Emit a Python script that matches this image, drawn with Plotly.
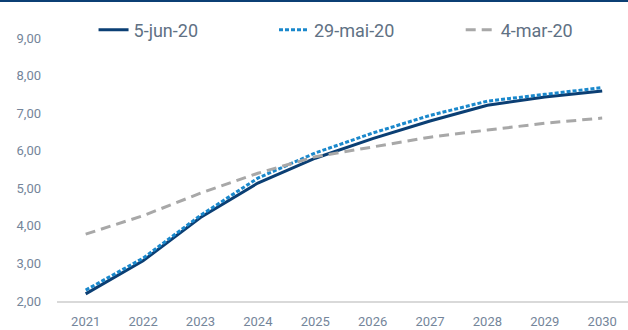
import plotly.graph_objects as go

years = ["2021", "2022", "2023", "2024", "2025", "2026", "2027", "2028", "2029", "2030"]
jun5 = [2.19, 3.07, 4.22, 5.14, 5.80, 6.32, 6.79, 7.21, 7.43, 7.59]
mai29 = [2.29, 3.14, 4.28, 5.27, 5.94, 6.47, 6.94, 7.32, 7.50, 7.68]
mar4 = [3.78, 4.27, 4.87, 5.40, 5.84, 6.09, 6.36, 6.55, 6.73, 6.87]
names = ["5-jun-20", "29-mai-20", "4-mar-20"]

font_fam = "Liberation Sans Narrow, Roboto, sans-serif"
leg_font = dict(family=font_fam, size=18, color="#5F7184")

fig = go.Figure()
fig.add_trace(go.Scatter(x=years, y=jun5, name=names[0], mode="lines", legend="legend",
                         line=dict(color="#0B3F74", width=3)))
fig.add_trace(go.Scatter(x=years, y=mai29, name=names[1], mode="lines", legend="legend2",
                         line=dict(color="#1A88CC", width=3, dash="4px,2px")))
fig.add_trace(go.Scatter(x=years, y=mar4, name=names[2], mode="lines", legend="legend3",
                         line=dict(color="#A8A8A8", width=3, dash="10px,6px")))

def leg(xpos):
    return dict(orientation="h", x=xpos, y=1.03, xanchor="left", yanchor="middle",
                font=leg_font, bgcolor="rgba(0,0,0,0)")

fig.update_layout(
    width=628, height=330,
    margin=dict(l=57, r=0, t=38, b=29, autoexpand=False),
    plot_bgcolor="white", paper_bgcolor="white",
    separators=",.",
    showlegend=True,
    legend=leg(0.064), legend2=leg(0.380), legend3=leg(0.707),
    font=dict(family=font_fam, color="#74859A"),
    shapes=[dict(type="rect", xref="paper", yref="paper", x0=-0.2, x1=1.2,
                 y0=1.0 + 36/263, y1=1.2, fillcolor="#0B3F74", line=dict(width=0))],
)
fig.update_xaxes(type="category", range=[-0.5, 9.45], showgrid=False,
                 showline=True, linecolor="#D9D9D9", linewidth=1.5,
                 ticks="", ticklabelstandoff=8, tickfont=dict(size=13, color="#74859A"))
fig.update_yaxes(range=[2, 9], dtick=1, tickformat=".2f", showgrid=False,
                 zeroline=False, showline=False, ticks="", ticklabelstandoff=15,
                 tickfont=dict(size=13, color="#74859A"))

fig.write_html("out.html")
